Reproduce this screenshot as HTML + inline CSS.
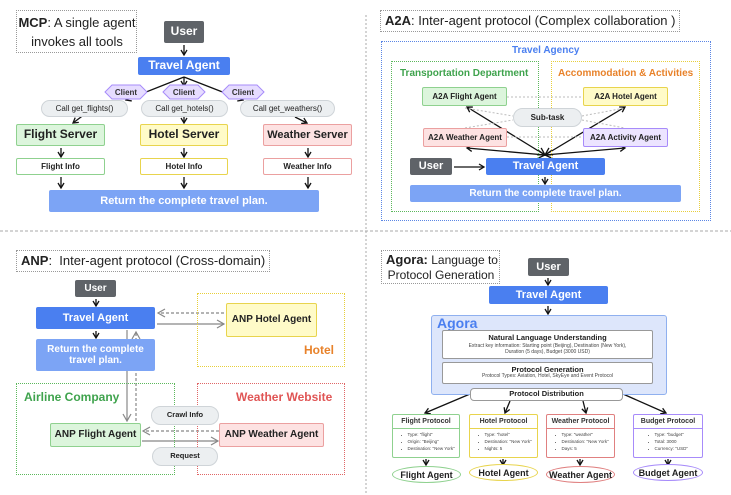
<!DOCTYPE html>
<html><head><meta charset="utf-8"><style>
*{margin:0;padding:0;box-sizing:border-box}
body{width:731px;height:495px;background:#fff;position:relative;overflow:hidden;font-family:"Liberation Sans",sans-serif;color:#222}
.b{position:absolute;display:flex;align-items:center;justify-content:center;text-align:center;font-weight:bold;border-radius:2px;line-height:1.15;white-space:nowrap}
.t{position:absolute;white-space:nowrap}
.g{background:#dcf5dc;border:1.5px solid #8fd18f}
.y{background:#fffbc8;border:1.5px solid #e8d44d}
.r{background:#fde2e2;border:1.5px solid #eba0a0}
.p{background:#ece4ff;border:1.5px solid #a78bfa}
.gray{background:#5f6368;color:#fff}
.blue{background:#4a7ff0;color:#fff}
.lb{background:#7ca4f5;color:#fff}
.pill{background:#eceff1;border:1px solid #cfd4d8;border-radius:10px;font-weight:normal}
.dot{position:absolute;border:1.5px dotted #999}
.pr{position:absolute;background:#fff;border-radius:2px;font-size:4.5px;color:#444;overflow:hidden}
.pr .h{font-weight:bold;font-size:7px;text-align:center;padding:3px 0 3px;color:#333;white-space:nowrap}
.pr ul{padding:3px 0 0 8px;line-height:1.5;list-style-position:inside;white-space:nowrap}
.el{position:absolute;border-radius:50%;background:#fff;display:flex;align-items:center;justify-content:center;font-weight:bold;font-size:9px;white-space:nowrap}
</style></head><body>
<svg width="731" height="495" style="position:absolute;left:0;top:0">
<defs>
<marker id="a" markerWidth="8" markerHeight="8" refX="6" refY="4" orient="auto" markerUnits="userSpaceOnUse"><path d="M1,1 L6,4 L1,7" fill="none" stroke="#111" stroke-width="1.3"/></marker>
<marker id="ag" markerWidth="10" markerHeight="10" refX="8" refY="5" orient="auto" markerUnits="userSpaceOnUse"><path d="M1,1 L8,5 L1,9" fill="none" stroke="#888" stroke-width="1.2"/></marker>
<marker id="as" markerWidth="10" markerHeight="10" refX="2" refY="5" orient="auto" markerUnits="userSpaceOnUse"><path d="M9,1 L2,5 L9,9" fill="none" stroke="#111" stroke-width="1.3"/></marker>
</defs>
<line x1="0" y1="231" x2="731" y2="231" stroke="#aaa" stroke-dasharray="3,2"/>
<line x1="366" y1="15" x2="366" y2="495" stroke="#aaa" stroke-dasharray="2,2"/>
<g stroke="#111" stroke-width="1.3" fill="none" marker-end="url(#a)">
<line x1="184" y1="45" x2="184" y2="55"/>
<line x1="184" y1="77" x2="126" y2="100" marker-end=""/>
<line x1="184" y1="77" x2="184" y2="86" marker-end=""/>
<line x1="184" y1="77" x2="243" y2="100" marker-end=""/>
<line x1="85" y1="114" x2="73" y2="123"/>
<line x1="184" y1="117" x2="184" y2="123"/>
<line x1="295" y1="117" x2="307" y2="123"/>
<line x1="61" y1="148" x2="61" y2="157"/><line x1="184" y1="148" x2="184" y2="157"/><line x1="308" y1="148" x2="308" y2="157"/>
<line x1="61" y1="177" x2="61" y2="188"/><line x1="184" y1="177" x2="184" y2="188"/><line x1="308" y1="177" x2="308" y2="188"/>
<line x1="454" y1="167" x2="484" y2="167"/>
<line x1="545" y1="177" x2="545" y2="184"/>
<g marker-start="url(#as)">
<line x1="545" y1="155" x2="467" y2="107"/>
<line x1="545" y1="155" x2="625" y2="107"/>
<line x1="545" y1="155" x2="467" y2="148"/>
<line x1="545" y1="155" x2="625" y2="148"/>
</g>
<line x1="96" y1="299" x2="96" y2="306"/>
<line x1="96" y1="331" x2="96" y2="338"/>
<line x1="548" y1="278" x2="548" y2="285"/>
<line x1="548" y1="306" x2="548" y2="314"/>
<line x1="470" y1="394" x2="425" y2="413"/>
<line x1="510" y1="401" x2="505" y2="413"/>
<line x1="583" y1="401" x2="586" y2="413"/>
<line x1="623" y1="394" x2="666" y2="413"/>
<line x1="426" y1="459" x2="426" y2="465"/><line x1="503" y1="459" x2="503" y2="465"/><line x1="580" y1="459" x2="580" y2="465"/><line x1="668" y1="459" x2="668" y2="465"/>
</g>
<g stroke="#bbb" stroke-dasharray="2,2" fill="none">
<line x1="507" y1="97" x2="583" y2="97"/>
<line x1="465" y1="108" x2="513" y2="116"/><line x1="465" y1="128" x2="513" y2="120"/>
<line x1="582" y1="116" x2="625" y2="108"/><line x1="582" y1="120" x2="625" y2="128"/>
<line x1="507" y1="137" x2="583" y2="137"/>
</g>
<g stroke="#888" stroke-width="1.2" fill="none" marker-end="url(#ag)">
<line x1="157" y1="324" x2="224" y2="324"/>
<line x1="224" y1="313" x2="158" y2="313" stroke-dasharray="3,2"/>
<line x1="127" y1="330" x2="127" y2="421"/>
<line x1="136" y1="421" x2="136" y2="332" stroke-dasharray="3,2"/>
<line x1="142" y1="441" x2="218" y2="441"/>
<line x1="219" y1="431" x2="143" y2="431" stroke-dasharray="3,2"/>
</g>
</svg>

<div class="dot" style="left:16px;top:10px;width:121px;height:43px"></div>
<div class="t" style="left:18px;top:13px;font-size:13px;line-height:19px;text-align:center;width:118px"><b>MCP</b>: A single agent<br>invokes all tools</div>
<div class="b gray" style="left:164px;top:21px;width:40px;height:22px;font-size:12px">User</div>
<div class="b blue" style="left:138px;top:57px;width:92px;height:18px;font-size:12px">Travel Agent</div>
<svg width="731" height="120" style="position:absolute;left:0;top:0">
<g fill="#e6dcff" stroke="#a78bfa" stroke-width="1">
<polygon points="112,85 140,85 147,92 140,99 112,99 105,92"/>
<polygon points="170,85 198,85 205,92 198,99 170,99 163,92"/>
<polygon points="229,85 257,85 264,92 257,99 229,99 222,92"/>
</g>
<g font-family="Liberation Sans" font-size="8" font-weight="bold" text-anchor="middle" fill="#333">
<text x="126" y="95">Client</text><text x="184" y="95">Client</text><text x="243" y="95">Client</text>
</g>
</svg>
<div class="b pill" style="left:41px;top:100px;width:87px;height:17px;font-size:8px">Call get_flights()</div>
<div class="b pill" style="left:141px;top:100px;width:87px;height:17px;font-size:8px">Call get_hotels()</div>
<div class="b pill" style="left:240px;top:100px;width:95px;height:17px;font-size:8px">Call get_weathers()</div>
<div class="b g" style="left:16px;top:124px;width:89px;height:22px;font-size:12px">Flight Server</div>
<div class="b y" style="left:140px;top:124px;width:88px;height:22px;font-size:12px">Hotel Server</div>
<div class="b r" style="left:263px;top:124px;width:89px;height:22px;font-size:11px">Weather Server</div>
<div class="b g" style="left:16px;top:158px;width:89px;height:17px;font-size:8px;background:#fff">Flight Info</div>
<div class="b y" style="left:140px;top:158px;width:88px;height:17px;font-size:8px;background:#fff">Hotel Info</div>
<div class="b r" style="left:263px;top:158px;width:89px;height:17px;font-size:8px;background:#fff">Weather Info</div>
<div class="b lb" style="left:49px;top:190px;width:270px;height:22px;font-size:11px">Return the complete travel plan.</div>

<div class="dot" style="left:380px;top:10px;width:300px;height:22px"></div>
<div class="t" style="left:385px;top:13px;font-size:13px"><b>A2A</b>: Inter-agent protocol (Complex collaboration )</div>
<div class="dot" style="left:381px;top:41px;width:330px;height:180px;border-color:#5b86e5"></div>
<div class="t" style="left:512px;top:45px;font-size:10px;font-weight:bold;color:#4a7ff0">Travel Agency</div>
<div class="dot" style="left:391px;top:61px;width:148px;height:151px;border-color:#5cb85c"></div>
<div class="dot" style="left:551px;top:61px;width:149px;height:151px;border-color:#e8cf3a"></div>
<div class="t" style="left:400px;top:68px;font-size:10px;font-weight:bold;color:#3fa34d">Transportation Department</div>
<div class="t" style="left:558px;top:68px;font-size:10px;font-weight:bold;color:#e8822a">Accommodation &amp; Activities</div>
<div class="b g" style="left:422px;top:87px;width:85px;height:19px;font-size:8px">A2A Flight Agent</div>
<div class="b y" style="left:583px;top:87px;width:85px;height:19px;font-size:8px">A2A Hotel Agent</div>
<div class="b pill" style="left:513px;top:108px;width:69px;height:19px;font-size:8px;font-weight:bold">Sub-task</div>
<div class="b r" style="left:423px;top:128px;width:84px;height:19px;font-size:8px">A2A Weather Agent</div>
<div class="b p" style="left:583px;top:128px;width:85px;height:19px;font-size:8px">A2A Activity Agent</div>
<div class="b gray" style="left:410px;top:158px;width:42px;height:17px;font-size:11px">User</div>
<div class="b blue" style="left:486px;top:158px;width:119px;height:17px;font-size:11px">Travel Agent</div>
<div class="b lb" style="left:410px;top:185px;width:271px;height:17px;font-size:10px">Return the complete travel plan.</div>

<div class="dot" style="left:16px;top:250px;width:254px;height:22px"></div>
<div class="t" style="left:21px;top:253px;font-size:13px"><b>ANP</b>:&nbsp; Inter-agent protocol (Cross-domain)</div>
<div class="b gray" style="left:75px;top:280px;width:41px;height:17px;font-size:10px">User</div>
<div class="b blue" style="left:36px;top:307px;width:119px;height:22px;font-size:11px">Travel Agent</div>
<div class="b lb" style="left:36px;top:339px;width:119px;height:32px;font-size:10px">Return the complete<br>travel plan.</div>
<div class="dot" style="left:197px;top:293px;width:148px;height:74px;border-color:#e8cf3a"></div>
<div class="b y" style="left:226px;top:303px;width:91px;height:34px;font-size:10px">ANP Hotel Agent</div>
<div class="t" style="left:304px;top:343px;font-size:12px;font-weight:bold;color:#e8822a">Hotel</div>
<div class="dot" style="left:16px;top:383px;width:159px;height:92px;border-color:#5cb85c"></div>
<div class="t" style="left:24px;top:390px;font-size:12px;font-weight:bold;color:#3fa34d">Airline Company</div>
<div class="dot" style="left:197px;top:383px;width:148px;height:92px;border-color:#e06666"></div>
<div class="t" style="left:236px;top:390px;font-size:12px;font-weight:bold;color:#e05555">Weather Website</div>
<div class="b g" style="left:50px;top:423px;width:91px;height:24px;font-size:10px">ANP Flight Agent</div>
<div class="b r" style="left:219px;top:423px;width:105px;height:24px;font-size:10px">ANP Weather Agent</div>
<div class="b pill" style="left:151px;top:406px;width:68px;height:19px;font-size:7.5px;font-weight:bold">Crawl Info</div>
<div class="b pill" style="left:152px;top:447px;width:66px;height:19px;font-size:7.5px;font-weight:bold">Request</div>

<div class="dot" style="left:381px;top:250px;width:119px;height:34px"></div>
<div class="t" style="left:386px;top:252px;font-size:12px;line-height:15px;text-align:center;width:110px"><b style="font-size:13px">Agora:</b> Language to<br>Protocol Generation</div>
<div class="b gray" style="left:528px;top:258px;width:41px;height:18px;font-size:11px">User</div>
<div class="b blue" style="left:489px;top:286px;width:119px;height:18px;font-size:11px">Travel Agent</div>
<div style="position:absolute;left:431px;top:315px;width:236px;height:80px;background:#dde6fb;border:1.5px solid #8fb0ef;border-radius:3px"></div>
<div class="t" style="left:437px;top:315px;font-size:14px;font-weight:bold;color:#4a7ff0">Agora</div>
<div class="b" style="left:442px;top:330px;width:211px;height:29px;background:#fff;border:1px solid #999;flex-direction:column;font-size:7.5px">Natural Language Understanding<span style="font-weight:normal;font-size:5px;line-height:6px;color:#444">Extract key information: Starting point (Beijing), Destination (New York),<br>Duration (5 days), Budget (3000 USD)</span></div>
<div class="b" style="left:442px;top:362px;width:211px;height:22px;background:#fff;border:1px solid #999;flex-direction:column;font-size:7.5px">Protocol Generation<span style="font-weight:normal;font-size:5px;color:#444">Protocol Types: Aviation, Hotel, SkyEye and Event Protocol</span></div>
<div class="b" style="left:470px;top:388px;width:153px;height:13px;background:#fff;border:1px solid #999;border-radius:4px;font-size:7.5px">Protocol Distribution</div>
<div class="pr" style="left:392px;top:414px;width:68px;height:44px;border:1.5px solid #8fd18f"><div class="h" style="border-bottom:1.5px solid #8fd18f">Flight Protocol</div><ul><li>Type: "flight"</li><li>Origin: "Beijing"</li><li>Destination: "New York"</li></ul></div>
<div class="pr" style="left:469px;top:414px;width:69px;height:44px;border:1.5px solid #e8d44d"><div class="h" style="border-bottom:1.5px solid #e8d44d">Hotel Protocol</div><ul><li>Type: "hotel"</li><li>Destination: "New York"</li><li>Nights: 5</li></ul></div>
<div class="pr" style="left:546px;top:414px;width:69px;height:44px;border:1.5px solid #e08080"><div class="h" style="border-bottom:1.5px solid #e08080">Weather Protocol</div><ul><li>Type: "weather"</li><li>Destination: "New York"</li><li>Days: 5</li></ul></div>
<div class="pr" style="left:633px;top:414px;width:70px;height:44px;border:1.5px solid #a78bfa"><div class="h" style="border-bottom:1.5px solid #a78bfa">Budget Protocol</div><ul style="padding-left:14px"><li>Type: "budget"</li><li>Total: 3000</li><li>Currency: "USD"</li></ul></div>
<div class="el" style="left:392px;top:466px;width:69px;height:17px;border:1.5px solid #8fd18f">Flight Agent</div>
<div class="el" style="left:469px;top:464px;width:69px;height:17px;border:1.5px solid #e8d44d">Hotel Agent</div>
<div class="el" style="left:546px;top:466px;width:69px;height:17px;border:1.5px solid #e08080">Weather Agent</div>
<div class="el" style="left:633px;top:464px;width:70px;height:17px;border:1.5px solid #a78bfa">Budget Agent</div>
</body></html>
